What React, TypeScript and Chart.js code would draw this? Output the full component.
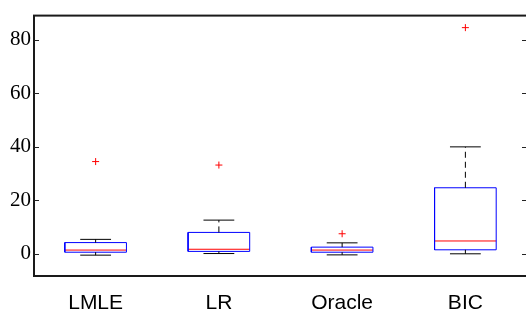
import { useEffect, useRef } from 'react';
import { Chart, registerables } from 'chart.js';
Chart.register(...registerables);

const categories = ['LMLE', 'LR', 'Oracle', 'BIC'];
const q1 = [0.6, 0.9, 0.6, 1.5];
const q3 = [4.2, 8.0, 2.5, 24.7];
const medians = [1.4, 1.7, 1.4, 4.8];
const whiskerLow = [-0.5, 0.1, -0.4, 0];
const whiskerHigh = [5.4, 12.6, 4.1, 40];
const outliers = [34.5, 33.2, 7.5, 84.6];
const yTicks = [0, 20, 40, 60, 80];

const framePlugin = {
  id: 'frame',
  afterDatasetsDraw(chart: any) {
    const { ctx, chartArea: a, scales } = chart;
    ctx.save();
    ctx.strokeStyle = '#1a1a1a';
    ctx.lineWidth = 2;
    ctx.strokeRect(a.left, a.top, a.right - a.left, a.bottom - a.top);
    ctx.lineWidth = 1;
    ctx.strokeStyle = '#222';
    yTicks.forEach((v) => {
      const y = Math.round(scales.y.getPixelForValue(v)) + 0.5;
      ctx.beginPath();
      ctx.moveTo(a.left, y);
      ctx.lineTo(a.left + 5, y);
      ctx.moveTo(a.right, y);
      ctx.lineTo(a.right - 5, y);
      ctx.stroke();
    });
    ctx.restore();
  },
};

export default function App() {
  const ref = useRef<HTMLCanvasElement>(null);
  useEffect(() => {
    const datasets: any[] = [];
    const line = (pts: any[], color: string, dash: number[] = []) => ({
      data: pts,
      showLine: true,
      borderColor: color,
      borderWidth: 1,
      borderDash: dash,
      pointRadius: 0,
      fill: false,
      tension: 0,
    });
    categories.forEach((_, k) => {
      const x = k + 1;
      const bw = 0.25;
      const cw = 0.125;
      // whiskers
      datasets.push(line([{ x, y: q3[k] }, { x, y: whiskerHigh[k] }], '#000', [6, 4]));
      datasets.push(line([{ x, y: q1[k] }, { x, y: whiskerLow[k] }], '#000', [6, 4]));
      // caps
      datasets.push(line([{ x: x - cw, y: whiskerHigh[k] }, { x: x + cw, y: whiskerHigh[k] }], '#000'));
      datasets.push(line([{ x: x - cw, y: whiskerLow[k] }, { x: x + cw, y: whiskerLow[k] }], '#000'));
      // box
      datasets.push(
        line(
          [
            { x: x - bw, y: q1[k] },
            { x: x + bw, y: q1[k] },
            { x: x + bw, y: q3[k] },
            { x: x - bw, y: q3[k] },
            { x: x - bw, y: q1[k] },
          ],
          '#0000ff'
        )
      );
      // median
      datasets.push(line([{ x: x - bw, y: medians[k] }, { x: x + bw, y: medians[k] }], '#ff0000'));
    });
    datasets.push({
      data: outliers.map((v, k) => ({ x: k + 1, y: v })),
      showLine: false,
      pointStyle: 'cross',
      pointRadius: 3.5,
      borderColor: '#ff0000',
      borderWidth: 1,
    });

    const chart = new Chart(ref.current as HTMLCanvasElement, {
      type: 'scatter',
      data: { datasets },
      plugins: [framePlugin],
      options: {
        animation: false,
        responsive: false,
        devicePixelRatio: 1,
        layout: { padding: { top: 14, right: 13, left: 0, bottom: 0 } },
        plugins: { legend: { display: false }, tooltip: { enabled: false } },
        scales: {
          x: {
            type: 'linear',
            min: 0.5,
            max: 4.5,
            afterBuildTicks: (s: any) => {
              s.ticks = categories.map((_, k) => ({ value: k + 1 }));
            },
            afterFit: (s: any) => {
              s.height = 35;
            },
            grid: { display: false, drawTicks: false },
            border: { display: false },
            ticks: {
              padding: 15,
              color: '#000',
              font: { family: '"Liberation Sans", Arial, sans-serif', size: 21 },
              callback: (v: any) => categories[Math.round(v) - 1] ?? '',
            },
          },
          y: {
            type: 'linear',
            min: -8.3,
            max: 89.1,
            afterBuildTicks: (s: any) => {
              s.ticks = yTicks.map((v) => ({ value: v }));
            },
            afterFit: (s: any) => {
              s.width = 34;
            },
            grid: { display: false, drawTicks: false },
            border: { display: false },
            ticks: {
              padding: 3,
              color: '#000',
              font: { family: '"Liberation Serif", "Times New Roman", serif', size: 21 },
            },
          },
        },
      },
    });
    return () => chart.destroy();
  }, []);
  return (
    <div style={{ position: 'fixed', left: 0, top: 0, width: 540, height: 311, background: '#fff' }}>
      <canvas ref={ref} width={540} height={311} style={{ display: 'block' }} />
    </div>
  );
}
